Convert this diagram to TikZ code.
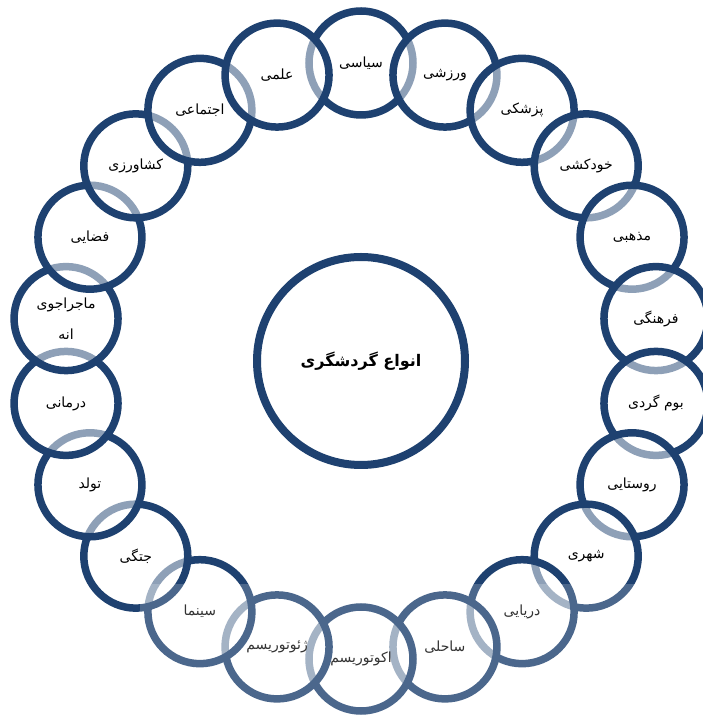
\documentclass[tikz,border=0pt]{standalone}
\usepackage{fontspec}
\newfontfamily\arabicfont[Script=Arabic]{DejaVu Sans}
\TeXXeTstate=1
\definecolor{ringblue}{RGB}{30,65,112}
\tikzset{
  ringcircle/.style={circle, draw=ringblue, line width=7.5pt, fill=white,
    fill opacity=0.5, draw opacity=1, text opacity=1, minimum size=104pt,
    inner sep=0pt, text=black, align=center,
    font=\arabicfont\fontsize{14}{31}\selectfont},
  hubcircle/.style={circle, draw=ringblue, line width=8pt, fill=white,
    minimum size=208pt, inner sep=0pt, text=black,
    font=\arabicfont\bfseries\fontsize{16}{18}\selectfont},
  veil/.style={fill=white, opacity=0.2}
}
\begin{document}
\begin{tikzpicture}[x=1pt,y=1pt]
\useasboundingbox (0,0) rectangle (703,715);
\fill[white] (0,0) rectangle (703,715);
\coordinate (o) at (361,354);
\foreach \k in {0,...,21}
  \coordinate (p\k) at ([shift={({90-\k*360/22}:298)}]o);
\node[hubcircle] (c) at (o) {\beginR انواع گردشگری\endR};
\node[ringcircle] (n0) at (p0) {\beginR سیاسی\endR};
\node[ringcircle] (n1) at (p1) {\beginR ورزشی\endR};
\node[ringcircle] (n2) at (p2) {\beginR پزشکی\endR};
\node[ringcircle] (n3) at (p3) {\beginR خودکشی\endR};
\node[ringcircle] (n4) at (p4) {\beginR مذهبی\endR};
\node[ringcircle] (n5) at (p5) {\beginR فرهنگی\endR};
\node[ringcircle] (n6) at (p6) {\beginR بوم گردی\endR};
\node[ringcircle] (n7) at (p7) {\beginR روستایی\endR};
\node[ringcircle] (n8) at (p8) {\beginR شهری\endR};
\node[ringcircle] (n9) at (p9) {\beginR دریایی\endR};
\node[ringcircle] (n10) at (p10) {\beginR ساحلی\endR};
\node[ringcircle] (n11) at (p11) {\beginR اکوتوریسم\endR};
\node[ringcircle] (n12) at (p12) {\beginR ژئوتوریسم\endR};
\node[ringcircle] (n13) at (p13) {\beginR سینما\endR};
\node[ringcircle] (n14) at (p14) {\beginR جتگی\endR};
\node[ringcircle] (n15) at (p15) {\beginR تولد\endR};
\node[ringcircle] (n16) at (p16) {\beginR درمانی\endR};
\node[ringcircle] (n17) at (p17) {\beginR ماجراجوی\endR\\\beginR انه\endR};
\node[ringcircle] (n18) at (p18) {\beginR فضایی\endR};
\node[ringcircle] (n19) at (p19) {\beginR کشاورزی\endR};
\node[ringcircle] (n20) at (p20) {\beginR اجتماعی\endR};
\node[ringcircle] (n21) at (p21) {\beginR علمی\endR};
\fill[veil] (140,0) rectangle (703,131);
\end{tikzpicture}
\end{document}
